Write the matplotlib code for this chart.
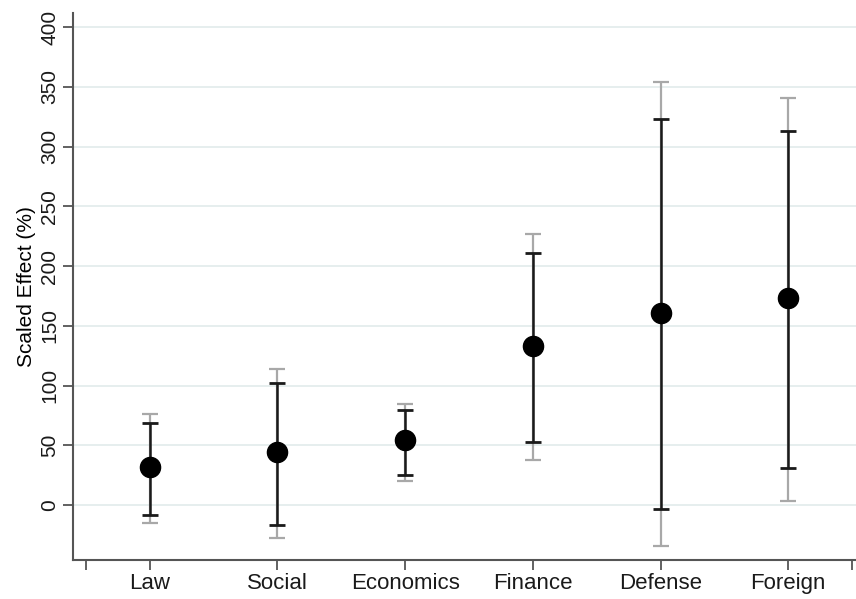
import numpy as np
import matplotlib
matplotlib.use("Agg")
import matplotlib.pyplot as plt

categories = ["Law", "Social", "Economics", "Finance", "Defense", "Foreign"]
estimate = [32, 44.5, 54.5, 133, 160.5, 173]
inner_low = [-8, -16.5, 25, 53, -3, 31]
inner_high = [69, 102.5, 79.5, 211, 323, 313]
outer_low = [-15, -27.5, 20, 37.5, -34, 3.5]
outer_high = [76.5, 114, 85, 226.5, 354, 341]
yticks = [0, 50, 100, 150, 200, 250, 300, 350, 400]

plt.rcParams['font.family'] = ['Liberation Sans', 'DejaVu Sans']

fig = plt.figure(figsize=(8.56, 5.99), dpi=100)
ax = fig.add_axes([0.0853, 0.065, 0.9147, 0.913])

x = np.arange(1, len(categories) + 1)
est = np.array(estimate)

# outer (gray) and inner (black) intervals
ax.errorbar(x, est, yerr=[est - np.array(outer_low), np.array(outer_high) - est],
            fmt='none', ecolor='#a8a8a8', elinewidth=1.6, capsize=6, capthick=1.6, zorder=2)
ax.errorbar(x, est, yerr=[est - np.array(inner_low), np.array(inner_high) - est],
            fmt='none', ecolor='#1a1a1a', elinewidth=1.8, capsize=6, capthick=2, zorder=3)
ax.plot(x, est, 'o', color='black', ms=14.5, zorder=4)

ax.set_xlim(0.4, 6.53)
ax.set_ylim(-46, 411.7)
ax.set_yticks(yticks)
ax.set_yticklabels([str(v) for v in yticks], rotation=90, va='center', fontsize=15)
ax.set_xticks(list(x) + [0.5, 6.5])
ax.set_xticklabels(categories + ["", ""], fontsize=16)
ax.set_ylabel("Scaled Effect (%)", fontsize=15, labelpad=3)

ax.grid(axis='y', color='#e6eeee', lw=1.4)
ax.set_axisbelow(True)
for s in ['top', 'right']:
    ax.spines[s].set_visible(False)
for s in ['left', 'bottom']:
    ax.spines[s].set_color('#555555')
    ax.spines[s].set_linewidth(1.5)
ax.tick_params(length=7, width=1.3, color='#555555', labelcolor='#1a1a1a')
ax.tick_params(axis='x', pad=2)
ax.tick_params(axis='y', pad=3)

fig.savefig("out.png", dpi=100)
